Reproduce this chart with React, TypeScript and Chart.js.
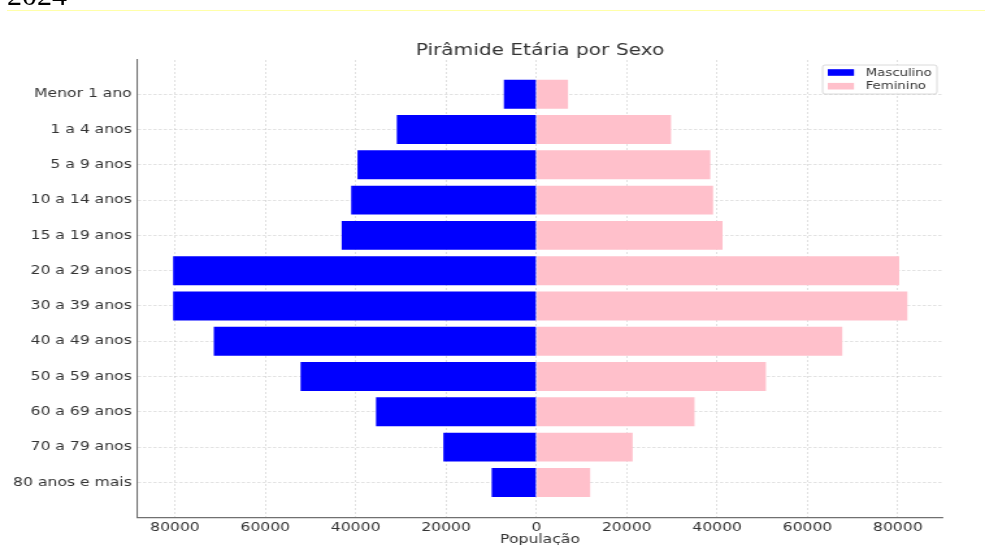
import React, { useEffect, useRef } from 'react';
import { Chart, registerables } from 'chart.js';

Chart.register(...registerables);

// ---------- data ----------
const TITLE = 'Pirâmide Etária por Sexo';
const X_TITLE = 'População';
const YEAR_TEXT = '2024';
const AGE_GROUPS = [
  'Menor 1 ano',
  '1 a 4 anos',
  '5 a 9 anos',
  '10 a 14 anos',
  '15 a 19 anos',
  '20 a 29 anos',
  '30 a 39 anos',
  '40 a 49 anos',
  '50 a 59 anos',
  '60 a 69 anos',
  '70 a 79 anos',
  '80 anos e mais',
];
const SERIES_NAMES = ['Masculino', 'Feminino'];
const MALE = [7200, 30900, 39600, 41000, 43100, 80400, 80400, 71400, 52200, 35500, 20600, 9900];
const FEMALE = [7000, 29800, 38500, 39100, 41200, 80300, 82100, 67700, 50800, 35000, 21300, 11900];
const X_TICKS = [-80000, -60000, -40000, -20000, 0, 20000, 40000, 60000, 80000];
const COLORS = ['#0000ff', '#ffc0cb'];

// The reference image is horizontally stretched; draw on a narrower canvas and stretch it with CSS.
const VIEW_W = 985;
const VIEW_H = 545;
const CANVAS_W = 758;
const FONT = '"DejaVu Sans", "Noto Sans", sans-serif';
const TEXT = '#333333';
const GRID = 'rgba(185,185,185,0.55)';

const overlayPlugin = {
  id: 'overlay',
  afterDraw(chart: any) {
    const { ctx, chartArea } = chart;
    ctx.save();
    // title
    ctx.fillStyle = TEXT;
    ctx.font = `15.5px ${FONT}`;
    ctx.textAlign = 'center';
    ctx.textBaseline = 'alphabetic';
    ctx.fillText(TITLE, (chartArea.left + chartArea.right) / 2, 54.5);

    // legend (inside the plot, upper right)
    const bw = 88;
    const bh = 29;
    const bx = chartArea.right - 4.7 - bw;
    const by = chartArea.top + 5;
    ctx.beginPath();
    if (ctx.roundRect) ctx.roundRect(bx, by, bw, bh, 2);
    else ctx.rect(bx, by, bw, bh);
    ctx.fillStyle = 'rgba(255,255,255,0.85)';
    ctx.fill();
    ctx.strokeStyle = 'rgba(204,204,204,0.9)';
    ctx.lineWidth = 0.8;
    ctx.stroke();
    ctx.font = `10.2px ${FONT}`;
    ctx.textAlign = 'left';
    ctx.textBaseline = 'middle';
    chart.data.datasets.forEach((ds: any, i: number) => {
      const cy = by + 7.5 + i * 13.7;
      ctx.fillStyle = ds.backgroundColor;
      ctx.fillRect(bx + 4, cy - 3.3, 20.2, 6.6);
      ctx.fillStyle = TEXT;
      ctx.fillText(ds.label, bx + 33.3, cy + 0.5);
    });
    ctx.restore();
  },
};

export default function App() {
  const canvasRef = useRef<HTMLCanvasElement | null>(null);

  useEffect(() => {
    const canvas = canvasRef.current;
    if (!canvas) return;
    Chart.defaults.font.family = FONT;
    const chart = new Chart(canvas, {
      type: 'bar',
      data: {
        datasets: [
          {
            label: SERIES_NAMES[0],
            data: MALE.map((v, i) => ({ x: -v, y: i })),
            backgroundColor: COLORS[0],
            borderWidth: 0,
            barPercentage: 0.82,
            categoryPercentage: 1,
            grouped: false,
          },
          {
            label: SERIES_NAMES[1],
            data: FEMALE.map((v, i) => ({ x: v, y: i })),
            backgroundColor: COLORS[1],
            borderWidth: 0,
            barPercentage: 0.82,
            categoryPercentage: 1,
            grouped: false,
          },
        ],
      },
      options: {
        indexAxis: 'y',
        animation: false,
        responsive: false,
        devicePixelRatio: 1,
        events: [],
        layout: { padding: { top: 60, right: 32.3, bottom: 0, left: 0 } },
        plugins: {
          legend: { display: false },
          title: { display: false },
          tooltip: { enabled: false },
        },
        scales: {
          x: {
            type: 'linear',
            position: 'bottom',
            min: -88400,
            max: 90000,
            offset: false,
            z: 1,
            afterBuildTicks: (s: any) => {
              s.ticks = X_TICKS.map((v) => ({ value: v }));
            },
            afterFit: (s: any) => {
              s.height = 27.3;
            },
            ticks: {
              callback: (v: any) => String(Math.abs(Number(v))),
              color: TEXT,
              font: { size: 12 },
              padding: 3,
              maxRotation: 0,
              autoSkip: false,
            },
            grid: { color: GRID, lineWidth: 0.8, drawTicks: false, offset: false },
            border: { display: true, color: '#707070', width: 1.3, dash: [2, 2] },
            title: {
              display: true,
              text: X_TITLE,
              color: TEXT,
              font: { size: 12 },
              padding: { top: 0, bottom: -2 },
            },
          },
          y: {
            type: 'linear',
            position: 'left',
            min: -0.97,
            max: 12,
            reverse: true,
            offset: false,
            z: 1,
            afterBuildTicks: (s: any) => {
              s.ticks = AGE_GROUPS.map((_, i) => ({ value: i }));
            },
            afterFit: (s: any) => {
              s.width = 105.4;
            },
            ticks: {
              callback: (v: any) => AGE_GROUPS[Number(v)] ?? '',
              color: TEXT,
              font: { size: 12 },
              padding: 4,
              autoSkip: false,
            },
            grid: { color: GRID, lineWidth: 0.8, drawTicks: false, offset: false },
            border: { display: true, color: '#707070', width: 1.1, dash: [2.4, 1.6] },
          },
        },
      },
      plugins: [overlayPlugin],
    } as any);
    return () => chart.destroy();
  }, []);

  return (
    <div
      style={{
        position: 'fixed',
        left: 0,
        top: 0,
        width: VIEW_W,
        height: VIEW_H,
        overflow: 'hidden',
        background: '#ffffff',
      }}
    >
      <canvas
        ref={canvasRef}
        width={CANVAS_W}
        height={VIEW_H}
        style={{ position: 'absolute', left: 0, top: 0, width: VIEW_W, height: VIEW_H }}
      />
      <div
        style={{
          position: 'absolute',
          left: 7,
          top: -20,
          fontFamily: '"Liberation Serif", serif',
          fontSize: 30,
          lineHeight: '30px',
          color: '#000',
          whiteSpace: 'nowrap',
        }}
      >
        {YEAR_TEXT}
      </div>
      <div
        style={{
          position: 'absolute',
          left: 7,
          right: 0,
          top: 10,
          height: 1,
          background: '#ffffa8',
        }}
      />
    </div>
  );
}
